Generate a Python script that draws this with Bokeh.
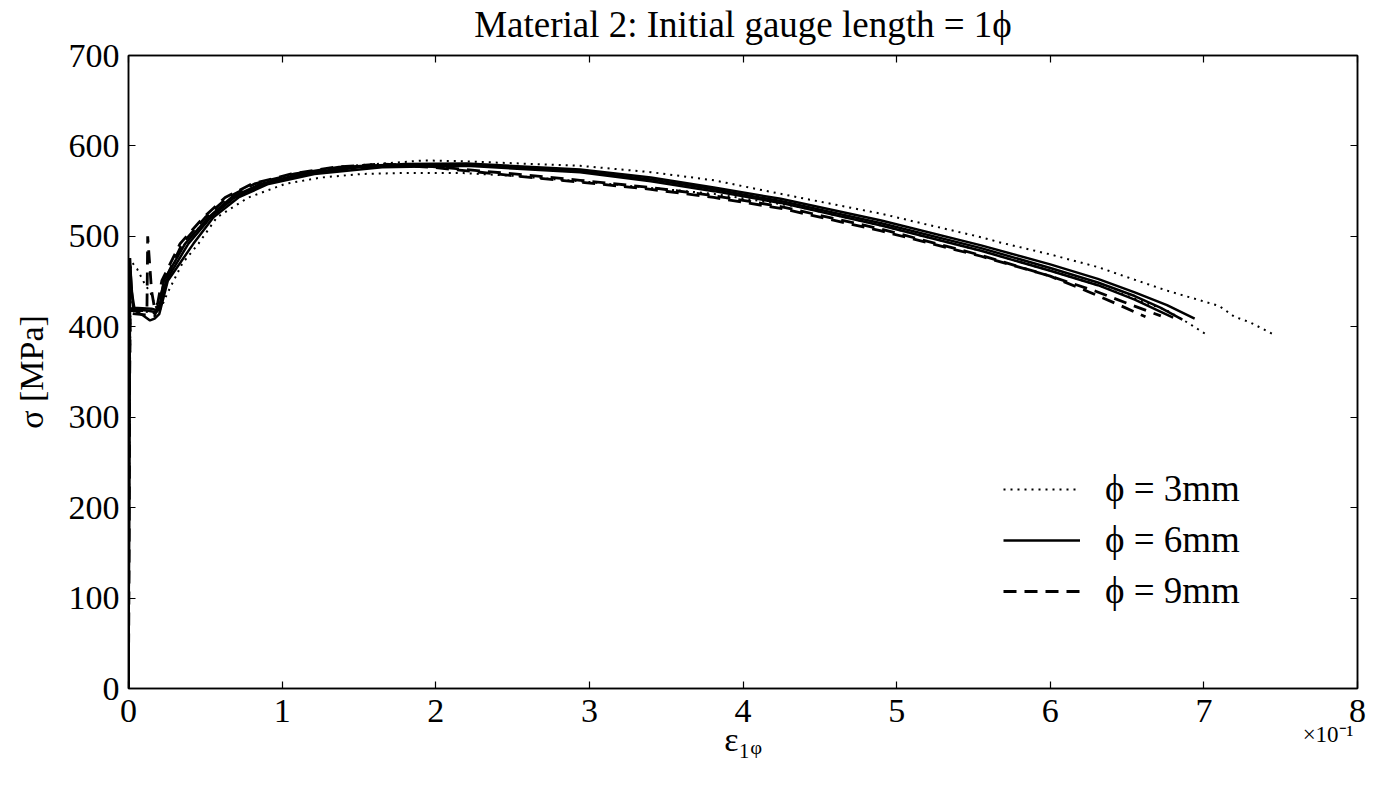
from bokeh.plotting import figure
from bokeh.models import (LinearAxis, FixedTicker, Legend, LegendItem, Title,
                          Range1d, CustomLabelingPolicy)
from bokeh.embed import file_html
from bokeh.resources import INLINE

FONT = "Liberation Serif"

# strain values in units of 1e-1 (axis shows x 10^-1), stress in MPa
x_ticks = [0, 1, 2, 3, 4, 5, 6, 7, 8]
x_tick_labels = ["0", "1", "2", "3", "4", "5", "6", "7", "8"]
y_ticks = [0, 100, 200, 300, 400, 500, 600, 700]
x_multiplier = "×10⁻¹"

# phi = 3mm (dotted)
p1_x = [0, 0.005, 0.01, 0.03, 0.10, 0.17, 0.20, 0.24, 0.35, 0.45, 0.55, 0.70, 0.90, 1.15, 1.45, 1.93, 2.18, 2.94, 3.40, 3.81,
        4.245, 4.90, 5.55, 5.68, 6.00, 6.31, 6.55, 6.76, 7.02, 7.10, 7.20, 7.30, 7.47]
p1_y = [0, 300, 462, 420, 417, 415, 420, 450, 488, 508, 525, 543, 558, 570, 578, 584, 583, 578, 571, 562,
        547, 525, 499, 493, 480, 466, 452, 440, 427, 423, 411, 405, 390]
p2_x = [0, 0.005, 0.015, 0.024, 0.056, 0.11, 0.143, 0.17, 0.19, 0.21, 0.25, 0.35, 0.456, 0.575, 0.781, 1.02, 1.25, 1.52,
        1.76, 2.18, 2.50, 3.00, 3.81, 4.35, 4.90, 5.55, 6.00, 6.31, 6.60, 6.76, 6.89, 7.02]
p2_y = [0, 250, 468, 471, 464, 446, 438, 425, 418, 420, 436, 470, 492, 521, 543, 558, 565, 569,
        570, 570, 567, 560, 547, 533, 512, 484, 462, 446, 428, 418, 405, 391]

# phi = 6mm (solid)
s1_x = [0, 0.005, 0.01, 0.02, 0.04, 0.12, 0.18, 0.20, 0.23, 0.369, 0.52, 0.67, 0.86, 1.12, 1.45, 1.80, 2.20, 2.94, 3.40,
        3.81, 4.245, 4.90, 5.55, 6.00, 6.31, 6.55, 6.76, 6.94]
s1_y = [0, 320, 476, 440, 419, 418, 416, 420, 451, 492, 521, 543, 558, 569, 576.5, 580, 580.5, 574, 565,
        554, 541.5, 517.5, 490, 469, 453, 438, 424, 409]
s2_x = [0, 0.005, 0.01, 0.03, 0.15, 0.19, 0.215, 0.245, 0.39, 0.535, 0.69, 0.885, 1.16, 1.50, 1.85, 2.20, 2.94, 3.40,
        3.81, 4.245, 4.90, 5.55, 6.00, 6.31, 6.55, 6.72, 6.86]
s2_y = [0, 300, 468, 421, 420, 418, 430, 451, 492, 521, 543, 558, 569, 576.5, 579, 579, 572, 563,
        552, 539, 514.5, 487, 465, 449, 434, 421, 408]
s3_x = [0, 0.005, 0.01, 0.10, 0.14, 0.17, 0.20, 0.256, 0.423, 0.553, 0.716, 0.911, 1.21, 1.65, 2.20, 2.94, 3.40, 3.81,
        4.245, 4.90, 5.55, 6.00, 6.31, 6.55, 6.80]
s3_y = [0, 280, 421, 412, 407, 409, 414, 451, 492, 521, 543, 558, 569, 576.5, 578, 571, 561, 550,
        537, 512, 484, 462, 446, 430, 410]

# phi = 9mm (dashed)
d1_x = [0, 0.005, 0.01, 0.12, 0.125, 0.15, 0.17, 0.19, 0.217, 0.336, 0.488, 0.629, 0.803, 1.06, 1.345, 1.65, 2.00, 2.51,
        2.94, 3.40, 3.81, 4.245, 4.90, 5.55, 6.00, 6.26, 6.45, 6.62]
d1_y = [0, 280, 418, 418, 500, 440, 420, 426, 451, 492, 521, 543, 558, 569, 576.5, 580, 577, 569,
        562, 554, 545, 533, 508, 479, 456, 438, 424, 411]
d2_x = [0, 0.005, 0.01, 0.17, 0.20, 0.235, 0.35, 0.50, 0.645, 0.82, 1.08, 1.37, 1.70, 2.00, 2.51, 2.94, 3.40, 3.81,
        4.245, 4.90, 5.55, 6.00, 6.30, 6.50, 6.72]
d2_y = [0, 270, 415, 412, 428, 451, 492, 521, 543, 558, 569, 576.5, 579, 576, 567, 560, 552, 543,
        531, 506, 478, 456, 439, 426, 412]

p = figure(width=1383, height=787, x_range=Range1d(0, 8), y_range=Range1d(0, 700),
           output_backend="svg", toolbar_location=None,
           min_border_left=128, min_border_right=26, min_border_top=55, min_border_bottom=99)

p.grid.visible = False
p.outline_line_color = "black"
p.outline_line_width = 1.5
p.background_fill_color = "white"
p.border_fill_color = "white"

DOT = "2 5"
DASH = "13 8"
r_p1 = p.line(p1_x, p1_y, line_color="black", line_width=2, line_dash=DOT)
r_p2 = p.line(p2_x, p2_y, line_color="black", line_width=2, line_dash=DOT)
r_s1 = p.line(s1_x, s1_y, line_color="black", line_width=2.5)
r_s2 = p.line(s2_x, s2_y, line_color="black", line_width=2.5)
r_s3 = p.line(s3_x, s3_y, line_color="black", line_width=2.5)
r_d1 = p.line(d1_x, d1_y, line_color="black", line_width=2.8, line_dash=DASH)
r_d2 = p.line(d2_x, d2_y, line_color="black", line_width=2.8, line_dash=DASH)

no_labels = CustomLabelingPolicy(code="""
    const all = [...indices]
    for (const i of all) indices.unset(i)
    return indices
""")

def style_axis(ax, labels=True):
    ax.major_tick_in = 7
    ax.major_tick_out = 0
    ax.minor_tick_line_color = None
    ax.axis_line_width = 1.5
    ax.major_tick_line_width = 1.2
    ax.axis_line_color = "black"
    ax.major_tick_line_color = "black"
    if labels:
        ax.major_label_text_font = FONT
        ax.major_label_text_font_size = "34px"
        ax.major_label_text_color = "black"
        ax.axis_label_text_font = FONT
        ax.axis_label_text_font_size = "34px"
        ax.axis_label_text_font_style = "normal"
        ax.axis_label_text_color = "black"
    else:
        ax.major_label_policy = no_labels
        ax.major_label_standoff = 0

xax = p.xaxis[0]
xax.ticker = FixedTicker(ticks=x_ticks)
xax.major_label_overrides = {t: l for t, l in zip(x_ticks, x_tick_labels)}
xax.major_label_standoff = 11
style_axis(xax)

yax = p.yaxis[0]
yax.ticker = FixedTicker(ticks=y_ticks)
yax.axis_label = "σ [MPa]"
yax.major_label_standoff = 9
yax.axis_label_standoff = 16
style_axis(yax)

top = LinearAxis(ticker=FixedTicker(ticks=x_ticks))
style_axis(top, labels=False)
p.add_layout(top, "above")
right = LinearAxis(ticker=FixedTicker(ticks=y_ticks))
style_axis(right, labels=False)
p.add_layout(right, "right")

# multiplier text (right) and x label (centre) share the row under the tick labels
mult = Title(text=x_multiplier, align="right", vertical_align="top",
             text_font_size="23px", text_font=FONT, text_font_style="normal",
             text_color="black", standoff=-5, offset=4)
p.add_layout(mult, "below")
xlab = Title(text="ε₁ᵩ", align="center", vertical_align="top",
             text_font_size="34px", text_font=FONT, text_font_style="normal",
             text_color="black", standoff=-52, offset=0)
p.add_layout(xlab, "below")

p.title.text = "Material 2: Initial gauge length = 1ϕ"
p.title.align = "center"
p.title.text_font = FONT
p.title.text_font_size = "37px"
p.title.text_font_style = "normal"
p.title.text_color = "black"
p.title.offset = 0
p.title.standoff = -1

legend = Legend(items=[LegendItem(label="ϕ = 3mm", renderers=[r_p1]),
                       LegendItem(label="ϕ = 6mm", renderers=[r_s1]),
                       LegendItem(label="ϕ = 9mm", renderers=[r_d1])],
                location=(875, 76))
legend.border_line_color = None
legend.background_fill_alpha = 0
legend.label_text_font = FONT
legend.label_text_font_size = "37px"
legend.label_text_color = "black"
legend.glyph_width = 77
legend.glyph_height = 30
legend.label_height = 30
legend.label_standoff = 25
legend.spacing = 8
legend.padding = 0
legend.margin = 0
p.add_layout(legend)

open("out.html", "w").write(file_html(p, INLINE))
